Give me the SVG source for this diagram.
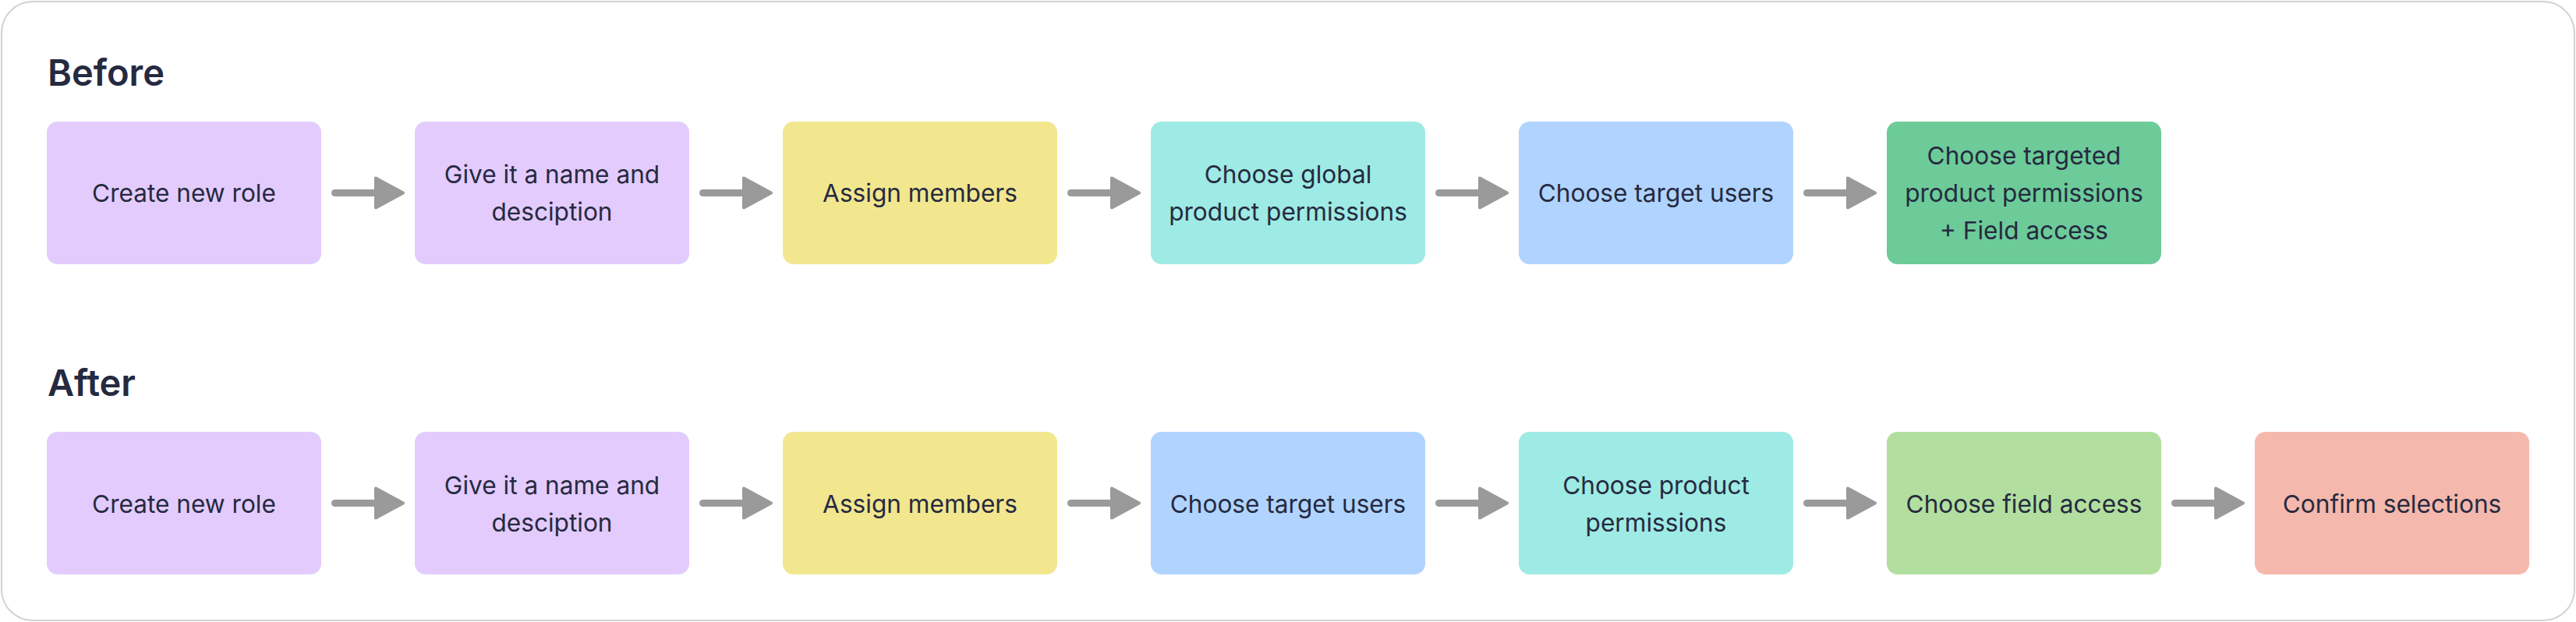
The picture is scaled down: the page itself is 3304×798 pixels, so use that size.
<svg xmlns="http://www.w3.org/2000/svg" width="3304" height="798" viewBox="0 0 3304 798">
<style>
.frame{fill:#ffffff;stroke:#d2d2d2;stroke-width:2}
.title{font-family:Inter,"Liberation Sans",sans-serif;font-weight:600;font-size:47px;fill:#262a40}
.lbl{font-family:Inter,"Liberation Sans",sans-serif;font-size:31.6px;fill:#262a40;text-anchor:middle}
.purple{fill:#e3cbfd}
.yellow{fill:#f2e68f}
.cyan{fill:#9eeae4}
.blue{fill:#b0d4ff}
.green{fill:#6ccb99}
.lgreen{fill:#b2df9f}
.salmon{fill:#f5b8ac}
</style>
<defs>
<g id="arr">
<line x1="4.5" y1="0" x2="58" y2="0" stroke="#9a9a9a" stroke-width="9" stroke-linecap="round"/>
<polygon points="57,-19 57,19 92,0" fill="#9a9a9a" stroke="#9a9a9a" stroke-width="4" stroke-linejoin="round"/>
</g>
</defs>
<rect class="frame" x="2" y="2" width="3300" height="794" rx="40"/>
<text class="title" x="61" y="110">Before</text>
<text class="title" x="61" y="508">After</text>
<g id="connectors">
<use href="#arr" transform="translate(425,247.5)"/>
<use href="#arr" transform="translate(897,247.5)"/>
<use href="#arr" transform="translate(1369,247.5)"/>
<use href="#arr" transform="translate(1841,247.5)"/>
<use href="#arr" transform="translate(2313,247.5)"/>
<use href="#arr" transform="translate(425,645.5)"/>
<use href="#arr" transform="translate(897,645.5)"/>
<use href="#arr" transform="translate(1369,645.5)"/>
<use href="#arr" transform="translate(1841,645.5)"/>
<use href="#arr" transform="translate(2313,645.5)"/>
<use href="#arr" transform="translate(2785,645.5)"/>
</g>
<g id="b1"><rect class="purple" x="60" y="156" width="352" height="183" rx="14"/><text class="lbl" x="236" y="259">Create new role</text></g>
<g id="b2"><rect class="purple" x="532" y="156" width="352" height="183" rx="14"/><text class="lbl" x="708" y="235">Give it a name and</text><text class="lbl" x="708" y="283">desciption</text></g>
<g id="b3"><rect class="yellow" x="1004" y="156" width="352" height="183" rx="14"/><text class="lbl" x="1180" y="259">Assign members</text></g>
<g id="b4"><rect class="cyan" x="1476" y="156" width="352" height="183" rx="14"/><text class="lbl" x="1652" y="235">Choose global</text><text class="lbl" x="1652" y="283">product permissions</text></g>
<g id="b5"><rect class="blue" x="1948" y="156" width="352" height="183" rx="14"/><text class="lbl" x="2124" y="259">Choose target users</text></g>
<g id="b6"><rect class="green" x="2420" y="156" width="352" height="183" rx="14"/><text class="lbl" x="2596" y="211">Choose targeted</text><text class="lbl" x="2596" y="259">product permissions</text><text class="lbl" x="2596" y="307">+ Field access</text></g>
<g id="a1"><rect class="purple" x="60" y="554" width="352" height="183" rx="14"/><text class="lbl" x="236" y="658">Create new role</text></g>
<g id="a2"><rect class="purple" x="532" y="554" width="352" height="183" rx="14"/><text class="lbl" x="708" y="634">Give it a name and</text><text class="lbl" x="708" y="682">desciption</text></g>
<g id="a3"><rect class="yellow" x="1004" y="554" width="352" height="183" rx="14"/><text class="lbl" x="1180" y="658">Assign members</text></g>
<g id="a4"><rect class="blue" x="1476" y="554" width="352" height="183" rx="14"/><text class="lbl" x="1652" y="658">Choose target users</text></g>
<g id="a5"><rect class="cyan" x="1948" y="554" width="352" height="183" rx="14"/><text class="lbl" x="2124" y="634">Choose product</text><text class="lbl" x="2124" y="682">permissions</text></g>
<g id="a6"><rect class="lgreen" x="2420" y="554" width="352" height="183" rx="14"/><text class="lbl" x="2596" y="658">Choose field access</text></g>
<g id="a7"><rect class="salmon" x="2892" y="554" width="352" height="183" rx="14"/><text class="lbl" x="3068" y="658">Confirm selections</text></g>
</svg>
